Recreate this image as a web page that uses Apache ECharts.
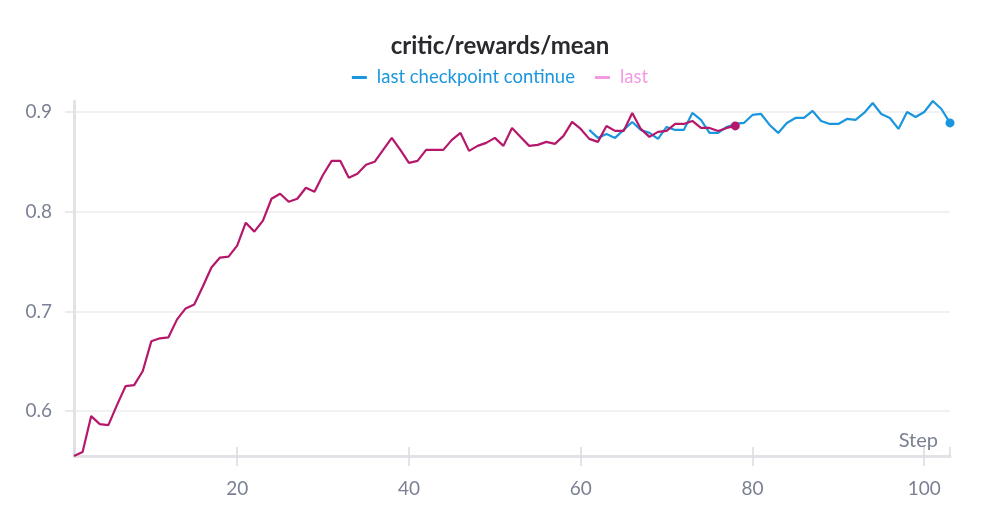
<!DOCTYPE html>
<html>
<head>
    <meta charset="utf-8">
    <title>critic/rewards/mean</title>
    <script src="https://cdn.jsdelivr.net/npm/echarts@6/dist/echarts.min.js"></script>
    <style>
        html, body { margin: 0; padding: 0; background: #fff; }
        #main { width: 1000px; height: 525px; }
    </style>
</head>
<body>
<div id="main"></div>
<script type="text/javascript">
    // run "last": steps 1..78
    var lastStart = 1;
    var lastValues = [
        0.555, 0.559, 0.595, 0.587, 0.586, 0.606, 0.625, 0.626, 0.640, 0.670,
        0.673, 0.674, 0.692, 0.703, 0.707, 0.725, 0.744, 0.754, 0.755, 0.766,
        0.789, 0.780, 0.791, 0.813, 0.818, 0.810, 0.813, 0.824, 0.820, 0.837,
        0.851, 0.851, 0.834, 0.838, 0.847, 0.850, 0.862, 0.874, 0.862, 0.849,
        0.851, 0.862, 0.862, 0.862, 0.872, 0.879, 0.861, 0.866, 0.869, 0.874,
        0.866, 0.884, 0.875, 0.866, 0.867, 0.870, 0.868, 0.876, 0.890, 0.883,
        0.873, 0.870, 0.886, 0.881, 0.881, 0.899, 0.883, 0.875, 0.880, 0.881,
        0.888, 0.888, 0.891, 0.884, 0.884, 0.881, 0.884, 0.886
    ];
    // run "last checkpoint continue": steps 61..103
    var contStart = 61;
    var contValues = [
        0.882, 0.874, 0.878, 0.874, 0.882, 0.890, 0.882, 0.879, 0.873, 0.885,
        0.882, 0.882, 0.899, 0.892, 0.879, 0.879, 0.885, 0.888, 0.889, 0.897,
        0.898, 0.887, 0.879, 0.889, 0.894, 0.894, 0.901, 0.891, 0.888, 0.888,
        0.893, 0.892, 0.899, 0.909, 0.898, 0.894, 0.883, 0.900, 0.895, 0.900,
        0.911, 0.903, 0.889
    ];
    var stepRange = [1, 103];
    var valueRange = [0.555, 0.911];

    var blue = '#1a96de';
    var magenta = '#b5186b';
    var pink = '#f49ae2';
    var labelColor = '#7b8194';
    var font = 'Lato';

    function toPairs(start, values) {
        var out = [];
        for (var i = 0; i < values.length; i++) {
            out.push([start + i, values[i]]);
        }
        return out;
    }

    // only the final point gets a dot
    function lastDot(len) {
        return function (value, params) {
            return params.dataIndex === len - 1 ? 9 : 0;
        };
    }

    var myChart = echarts.init(document.getElementById('main'));

    var option = {
        animation: false,
        title: {
            text: 'critic/rewards/mean',
            left: 'center',
            top: 29,
            textStyle: { fontFamily: font, fontSize: 24, fontWeight: 'bold', color: '#2a2a2e' }
        },
        legend: {
            top: 63,
            left: 'center',
            icon: 'rect',
            itemWidth: 15,
            itemHeight: 3,
            itemGap: 20,
            textStyle: { fontFamily: font, fontSize: 18.5, padding: [0, 0, 0, 5] },
            data: [
                { name: 'last checkpoint continue', itemStyle: { color: blue }, textStyle: { color: blue } },
                { name: 'last', itemStyle: { color: pink }, textStyle: { color: pink } }
            ]
        },
        grid: { left: 74, right: 50, top: 101, bottom: 69 },
        xAxis: [{
            type: 'value',
            min: stepRange[0],
            max: stepRange[1],
            name: 'Step',
            nameLocation: 'end',
            nameGap: -12,
            nameTextStyle: {
                fontFamily: font, fontSize: 20, color: labelColor,
                align: 'right', verticalAlign: 'bottom', padding: [0, 0, 5, 0]
            },
            axisLine: { lineStyle: { color: '#e3e3e7', width: 3 } },
            axisTick: { length: 10, lineStyle: { color: '#dcdce0', width: 1.5 } },
            axisLabel: {
                fontFamily: font, fontSize: 19, color: labelColor, margin: 23,
                showMinLabel: false, showMaxLabel: false
            },
            splitLine: { show: false }
        }, {
            // inner half of the x ticks
            type: 'value',
            min: stepRange[0],
            max: stepRange[1],
            position: 'bottom',
            axisLine: { show: false },
            axisTick: { inside: true, length: 9, lineStyle: { color: '#dcdce0', width: 1.5 } },
            axisLabel: { show: false },
            splitLine: { show: false }
        }],
        yAxis: {
            type: 'value',
            min: valueRange[0],
            max: valueRange[1],
            axisLine: { show: true, lineStyle: { color: '#e3e3e7', width: 3 } },
            axisTick: { show: true, length: 9, lineStyle: { color: '#e3e3e7', width: 1.5 } },
            axisLabel: {
                fontFamily: font, fontSize: 19, color: labelColor, margin: 22,
                showMinLabel: false, showMaxLabel: false
            },
            splitLine: {
                show: true, showMinLine: false, showMaxLine: false,
                lineStyle: { color: '#ececee', width: 1.5 }
            }
        },
        series: [{
            name: 'last checkpoint continue',
            type: 'line',
            data: toPairs(contStart, contValues),
            showSymbol: true,
            showAllSymbol: true,
            symbol: 'circle',
            symbolSize: lastDot(contValues.length),
            itemStyle: { color: blue },
            lineStyle: { color: blue, width: 2.2 },
            z: 2
        }, {
            name: 'last',
            type: 'line',
            data: toPairs(lastStart, lastValues),
            showSymbol: true,
            showAllSymbol: true,
            symbol: 'circle',
            symbolSize: lastDot(lastValues.length),
            itemStyle: { color: magenta },
            lineStyle: { color: magenta, width: 2.2 },
            z: 3
        }]
    };
    myChart.setOption(option);
</script>
</body>
</html>
